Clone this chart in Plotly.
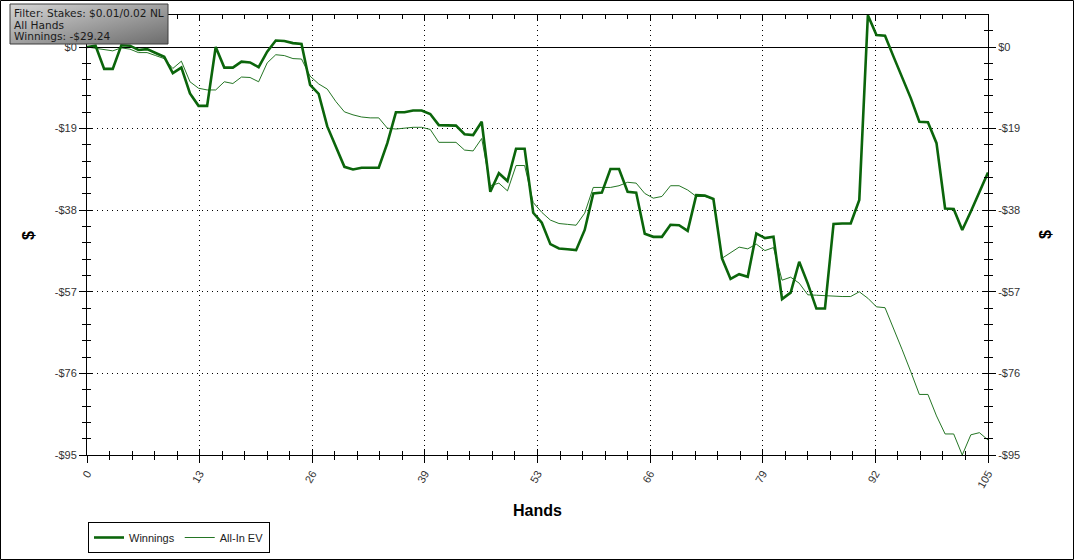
import base64
import plotly.graph_objects as go

# ---------------- data ----------------
HANDS = list(range(106))
WINNINGS = [
    0, 0.3, -5.1, -5.1, 0.4, 0.3, -0.7, -0.5, -1.4, -2.3,
    -6.1, -4.8, -10.8, -13.7, -13.7, 0, -4.8, -4.8, -3.4, -3.6,
    -4.7, -1.1, 1.5, 1.4, 0.9, 0.7, -8.8, -10.9, -18.5, -23.2,
    -27.9, -28.5, -28.1, -28.1, -28.1, -22.4, -15.2, -15.2, -14.8, -14.8,
    -15.6, -18.2, -18.2, -18.3, -20.3, -20.5, -17.4, -33.7, -29.4, -31.2,
    -23.7, -23.7, -38.6, -40.9, -45.9, -46.9, -47.1, -47.3, -42.6, -34.1,
    -33.9, -28.4, -28.4, -33.7, -33.9, -43.5, -44.2, -44.2, -41.4, -41.5,
    -42.8, -34.5, -34.6, -35.4, -49.2, -54.0, -52.9, -53.5, -43.4, -44.5,
    -44.2, -58.7, -57.2, -50.0, -55.1, -60.9, -60.9, -41.2, -41.1, -41.1,
    -35.6, 7.4, 2.8, 2.6, -2.3, -7.3, -11.9, -17.4, -17.5, -22.4,
    -37.6, -37.7, -42.6, -38.3, -33.9, -29.24,
]
ALLIN_EV = [
    0, -0.3, -0.6, -0.9, -0.2, -0.5, -1.3, -1.3, -2.0, -2.7,
    -5.0, -3.3, -8.1, -9.6, -10.0, -10.0, -8.1, -8.5, -7.0, -7.1,
    -8.1, -3.7, -1.8, -2.0, -2.7, -2.8, -6.8, -8.6, -9.8, -12.7,
    -15.1, -15.8, -16.3, -16.5, -16.5, -18.9, -19.1, -18.9, -18.7, -18.7,
    -19.2, -22.2, -22.2, -22.2, -24.0, -24.2, -21.3, -32.3, -31.7, -33.5,
    -27.6, -27.6, -36.2, -38.5, -40.3, -41.1, -41.3, -41.5, -38.7, -32.7,
    -32.7, -32.7, -32.3, -31.5, -31.7, -34.1, -35.2, -34.8, -32.3, -32.3,
    -33.3, -34.8, -34.8, -35.4, -49.2, -47.8, -46.6, -47.0, -45.9, -47.4,
    -46.7, -54.3, -53.6, -55.0, -57.7, -57.8, -57.9, -58.1, -58.1, -58.1,
    -57.0, -58.5, -60.5, -60.7, -65.5, -70.5, -75.6, -80.9, -80.9, -85.9,
    -90.1, -90.1, -95.0, -90.3, -89.8, -91.5,
]
X_TICK_LABELS = ["0", "13", "26", "39", "53", "66", "79", "92", "105"]
Y_TICK_VALUES = [0, -19, -38, -57, -76, -95]
Y_TICK_LABELS = ["$0", "-$19", "-$38", "-$57", "-$76", "-$95"]
INFO_LINES = ["Filter: Stakes: $0.01/0.02 NL", "All Hands", "Winnings: -$29.24"]

# ---------------- layout geometry ----------------
W, H = 1074, 560
L, R, T, B = 87, 988, 15, 455
PW, PH = R - L, B - T
X_MAX = 105
Y_RANGE = [-95, 7.45]


def px2x(px):
    return (px - L) / PW


def py2y(py):
    return (B - py) / PH


x_major = [i * X_MAX / 8 for i in range(9)]
x_minor = [i * X_MAX / 40 for i in range(41)]
y_minor = [i * -3.8 for i in range(-2, 26)]

GREEN = "#0b650b"
TICK_FONT = dict(family="Liberation Sans, Arial", size=11, color="#333333")

fig = go.Figure()
fig.add_trace(go.Scatter(x=HANDS, y=WINNINGS, mode="lines", name="Winnings",
                         line=dict(color=GREEN, width=2.6)))
fig.add_trace(go.Scatter(x=HANDS, y=ALLIN_EV, mode="lines", name="All-In EV",
                         line=dict(color=GREEN, width=0.9)))

grid_dash = "1px,4px"

fig.update_layout(
    width=W, height=H,
    margin=dict(l=L, r=W - R, t=T, b=H - B, pad=0, autoexpand=False),
    paper_bgcolor="white", plot_bgcolor="white",
    showlegend=True,
    legend=dict(orientation="h", x=px2x(88), y=py2y(522), xanchor="left", yanchor="top",
                bordercolor="black", borderwidth=1, bgcolor="white",
                font=dict(family="Liberation Sans, Arial", size=11, color="#222"),
                itemwidth=30, tracegroupgap=0),
    xaxis=dict(range=[0, X_MAX], tickmode="array", tickvals=x_major, ticktext=X_TICK_LABELS,
               tickangle=-60, tickfont=TICK_FONT, ticks="outside", ticklen=7, tickcolor="black",
               showline=True, linecolor="black", linewidth=1, mirror=True,
               showgrid=True, gridcolor="black", gridwidth=1, griddash=grid_dash,
               zeroline=False,
               minor=dict(tickmode="array", tickvals=x_minor, ticks="outside", ticklen=4,
                          tickcolor="black", showgrid=False)),
    xaxis2=dict(range=[0, X_MAX], overlaying="x", matches="x", tickmode="array",
                tickvals=x_major, showticklabels=False, ticks="inside", ticklen=6,
                tickcolor="black", mirror="allticks", showline=False, showgrid=False,
                zeroline=False,
                minor=dict(tickmode="array", tickvals=x_minor, ticks="inside", ticklen=4,
                           tickcolor="black", showgrid=False)),
    yaxis=dict(range=Y_RANGE, tickmode="array", tickvals=Y_TICK_VALUES, ticktext=Y_TICK_LABELS,
               tickfont=TICK_FONT, ticks="outside", ticklen=7, tickcolor="black",
               showline=True, linecolor="black", linewidth=1, mirror=True,
               showgrid=True, gridcolor="black", gridwidth=1, griddash=grid_dash,
               zeroline=True, zerolinecolor="black", zerolinewidth=1,
               minor=dict(tickmode="array", tickvals=y_minor, ticks="outside", ticklen=4,
                          tickcolor="black", showgrid=False)),
    yaxis2=dict(range=Y_RANGE, overlaying="y", matches="y", side="right", tickmode="array",
                tickvals=Y_TICK_VALUES, ticktext=Y_TICK_LABELS, tickfont=TICK_FONT,
                ticks="outside", ticklen=7, tickcolor="black", showline=False,
                showgrid=False, zeroline=False,
                minor=dict(tickmode="array", tickvals=y_minor, ticks="outside", ticklen=4,
                           tickcolor="black", showgrid=False)),
    yaxis3=dict(range=Y_RANGE, overlaying="y", matches="y", tickmode="array",
                tickvals=Y_TICK_VALUES, showticklabels=False, ticks="inside", ticklen=6,
                tickcolor="black", mirror="allticks", showline=False, showgrid=False,
                zeroline=False,
                minor=dict(tickmode="array", tickvals=y_minor, ticks="inside", ticklen=4,
                           tickcolor="black", showgrid=False)),
)

# invisible anchor traces so the overlay axes get drawn
fig.add_trace(go.Scatter(x=[0], y=[0], xaxis="x2", yaxis="y2", mode="markers",
                         marker=dict(opacity=0), showlegend=False, hoverinfo="skip"))
fig.add_trace(go.Scatter(x=[0], y=[0], xaxis="x", yaxis="y3", mode="markers",
                         marker=dict(opacity=0), showlegend=False, hoverinfo="skip"))

# axis titles
title_font = dict(family="Liberation Sans, Arial", size=16, color="black")
fig.add_annotation(text="<b>Hands</b>", x=px2x(537), y=py2y(510), xref="paper", yref="paper",
                   xanchor="center", yanchor="middle", showarrow=False, font=title_font)
fig.add_annotation(text="<b>$</b>", x=px2x(28), y=py2y(235), xref="paper", yref="paper",
                   xanchor="center", yanchor="middle", showarrow=False, textangle=-90,
                   font=title_font)
fig.add_annotation(text="<b>$</b>", x=px2x(1045), y=py2y(235), xref="paper", yref="paper",
                   xanchor="center", yanchor="middle", showarrow=False, textangle=-90,
                   font=title_font)

# info box with gradient background
svg = ('<svg xmlns="http://www.w3.org/2000/svg" width="158" height="40">'
       '<defs><linearGradient id="g" x1="0" y1="0" x2="1" y2="1">'
       '<stop offset="0" stop-color="#d6d6d6"/><stop offset="1" stop-color="#6c6c6c"/>'
       '</linearGradient></defs><rect width="158" height="40" fill="url(#g)"/></svg>')
src = "data:image/svg+xml;base64," + base64.b64encode(svg.encode()).decode()
bx0, by0, bx1, by1 = 10, 4, 168, 44
fig.add_layout_image(source=src, xref="paper", yref="paper", x=px2x(bx0), y=py2y(by0),
                     sizex=(bx1 - bx0) / PW, sizey=(by1 - by0) / PH, sizing="stretch",
                     xanchor="left", yanchor="top", layer="above")
fig.add_shape(type="rect", xref="paper", yref="paper", x0=px2x(bx0), x1=px2x(bx1),
              y0=py2y(by1), y1=py2y(by0), line=dict(color="#3c3c3c", width=1))
for i, line in enumerate(INFO_LINES):
    fig.add_annotation(text=line, x=px2x(12), y=py2y(12.5 + 12 * i), xref="paper",
                       yref="paper", xanchor="left", yanchor="middle", align="left",
                       showarrow=False,
                       font=dict(family="DejaVu Sans", size=10.6, color="#1a1a1a"))

# outer frame
fig.add_shape(type="rect", xref="paper", yref="paper", x0=px2x(0.5), x1=px2x(W - 0.5),
              y0=py2y(H - 0.5), y1=py2y(0.5), line=dict(color="black", width=1), layer="above")

fig.write_html("out.html", config={"displayModeBar": False},
               post_script="document.body.style.margin='0';")
